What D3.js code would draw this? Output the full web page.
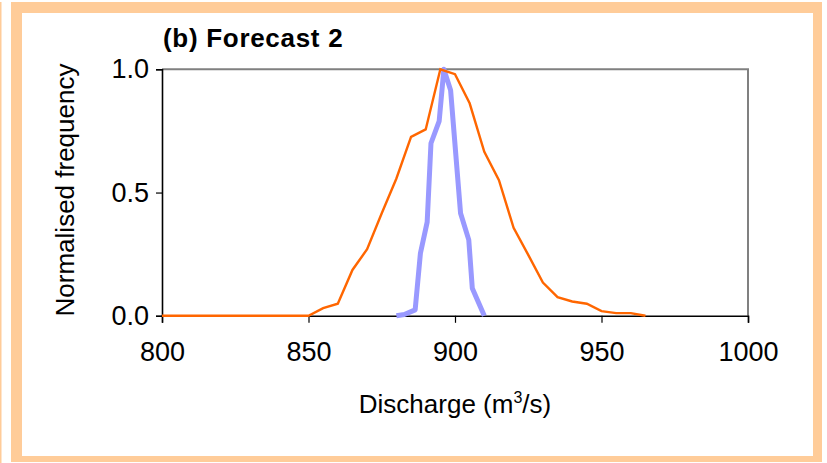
<!DOCTYPE html>
<html>
<head>
<meta charset="utf-8">
<script src="https://cdn.jsdelivr.net/npm/d3@7.9.0/dist/d3.min.js"></script>
<style>
  body { margin: 0; background: #fff; }
  svg { display: block; font-family: Arial, "Liberation Sans", sans-serif; }
</style>
</head>
<body>
<svg id="chart" width="827" height="463"></svg>
<script>
const orangeX = [800, 850, 855, 860, 865, 870, 875, 880, 885, 890, 895, 900, 905, 910, 915, 920, 925, 930, 935, 940, 945, 950, 955, 960, 965];
const orangeY = [0, 0, 0.031, 0.049, 0.186, 0.27, 0.416, 0.557, 0.726, 0.756, 1.0, 0.98, 0.862, 0.665, 0.55, 0.357, 0.247, 0.135, 0.076, 0.058, 0.049, 0.019, 0.011, 0.011, 0];

const blueX = [880, 882.7, 886.4, 888.2, 890.5, 891.8, 894.6, 896.2, 898.5, 901.9, 904.7, 905.9, 910];
const blueY = [0, 0.005, 0.024, 0.254, 0.38, 0.70, 0.79, 1.0, 0.915, 0.416, 0.308, 0.112, 0];

const xTicks = [800, 850, 900, 950, 1000];
const yTicks = [0, 0.5, 1.0];

const title = '(b) Forecast 2';
const yTitle = 'Normalised frequency';

const svg = d3.select('#chart');

// peach frame around the figure
svg.append('rect').attr('x', 0).attr('y', 2).attr('width', 1.5).attr('height', 461).attr('fill', '#ffcc99');
svg.append('rect').attr('x', 11).attr('y', 2).attr('width', 811).attr('height', 460).attr('fill', '#ffcc99');
svg.append('rect').attr('x', 22).attr('y', 13).attr('width', 791).attr('height', 443).attr('fill', '#fff');

const x = d3.scaleLinear().domain([800, 1000]).range([162, 748]);
const y = d3.scaleLinear().domain([0, 1]).range([315.8, 69.3]);

// plot area border (top + right in grey)
svg.append('path')
  .attr('d', `M${x(800)},${y(1)}H${x(1000)}V${y(0)}`)
  .attr('fill', 'none')
  .attr('stroke', '#808080')
  .attr('stroke-width', 2);

const xAxis = svg.append('g')
  .attr('transform', `translate(0,${y(0)})`)
  .call(d3.axisBottom(x).tickValues(xTicks).tickSize(7).tickPadding(19).tickFormat(d3.format('d')));

const yAxis = svg.append('g')
  .attr('transform', `translate(${x(800)},0)`)
  .call(d3.axisLeft(y).tickValues(yTicks).tickSize(6).tickPadding(7).tickFormat(d3.format('.1f')));

[xAxis, yAxis].forEach(g => {
  g.select('.domain').attr('stroke', '#000').attr('stroke-width', 1.6);
  g.selectAll('.tick line').attr('stroke', '#000').attr('stroke-width', 1.2);
  g.selectAll('.tick text').attr('fill', '#000').attr('font-size', 27).attr('font-family', 'Arial, "Liberation Sans", sans-serif');
});

const line = d3.line().x(d => x(d[0])).y(d => y(d[1]));

svg.append('path')
  .datum(blueX.map((v, i) => [v, blueY[i]]))
  .attr('d', line)
  .attr('fill', 'none')
  .attr('stroke', '#9999ff')
  .attr('stroke-width', 5)
  .attr('stroke-linejoin', 'round');

svg.append('path')
  .datum(orangeX.map((v, i) => [v, orangeY[i]]))
  .attr('d', line)
  .attr('fill', 'none')
  .attr('stroke', '#ff6600')
  .attr('stroke-width', 2.4);

svg.append('text')
  .attr('x', 163).attr('y', 47)
  .attr('font-size', 26).attr('font-weight', 'bold')
  .attr('letter-spacing', 0.7)
  .text(title);

svg.append('text')
  .attr('transform', 'translate(74,190) rotate(-90)')
  .attr('text-anchor', 'middle')
  .attr('font-size', 26)
  .text(yTitle);

const xt = svg.append('text')
  .attr('x', 455).attr('y', 413)
  .attr('text-anchor', 'middle')
  .attr('font-size', 26);
xt.append('tspan').text('Discharge (m');
xt.append('tspan').attr('font-size', 16).attr('dy', -10).text('3');
xt.append('tspan').attr('dy', 10).text('/s)');
</script>
</body>
</html>
